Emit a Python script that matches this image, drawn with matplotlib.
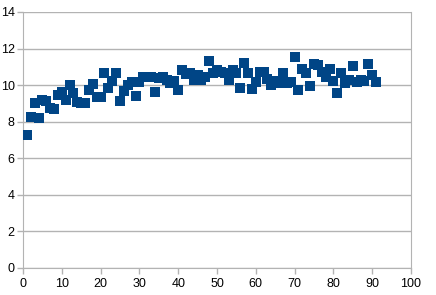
import matplotlib
matplotlib.use("Agg")
import matplotlib.pyplot as plt

x_vals = list(range(1, 92))
y_vals = [
    7.3, 8.27, 9.0, 8.2, 9.2, 9.15, 8.75, 8.7, 9.45, 9.65,
    9.2, 10.0, 9.55, 9.1, 9.05, 9.0, 9.73, 10.05, 9.37, 9.37,
    10.67, 9.85, 10.2, 10.67, 9.13, 9.67, 10.0, 10.18, 9.42, 10.18,
    10.42, 10.42, 10.45, 9.6, 10.4, 10.45, 10.27, 10.1, 10.2, 9.76,
    10.85, 10.6, 10.64, 10.3, 10.55, 10.3, 10.45, 11.33, 10.64, 10.85,
    10.7, 10.64, 10.27, 10.82, 10.67, 9.87, 11.22, 10.64, 9.78, 10.18,
    10.73, 10.73, 10.35, 10.0, 10.2, 10.13, 10.69, 10.13, 10.18, 11.55,
    9.73, 10.87, 10.67, 9.96, 11.18, 11.09, 10.73, 10.42, 10.87, 10.24,
    9.58, 10.69, 10.09, 10.27, 11.04, 10.18, 10.27, 10.24, 11.13, 10.55,
    10.18,
]
x_ticks = list(range(0, 101, 10))
y_ticks = list(range(0, 15, 2))

plt.rcParams["font.family"] = ["Liberation Sans", "DejaVu Sans"]

fig = plt.figure(figsize=(4.36, 2.95), dpi=100)
ax = fig.add_axes([23 / 436, 27 / 295, 388 / 436, 256 / 295])

ax.scatter(x_vals, y_vals, marker="s", s=55, color="#004586", linewidths=0, zorder=3)

ax.set_xlim(0, 100)
ax.set_ylim(0, 14)
ax.set_xticks(x_ticks)
ax.set_yticks(y_ticks)
ax.grid(axis="y", color="#b3b3b3", linewidth=1)
ax.set_axisbelow(True)
for side in ["left", "bottom", "right"]:
    ax.spines[side].set_color("#b3b3b3")
ax.spines["top"].set_visible(False)
ax.tick_params(colors="#b3b3b3", labelcolor="black", labelsize=9, length=4, width=1)
ax.tick_params(axis="y", pad=2)

fig.savefig("out.png", dpi=100)
